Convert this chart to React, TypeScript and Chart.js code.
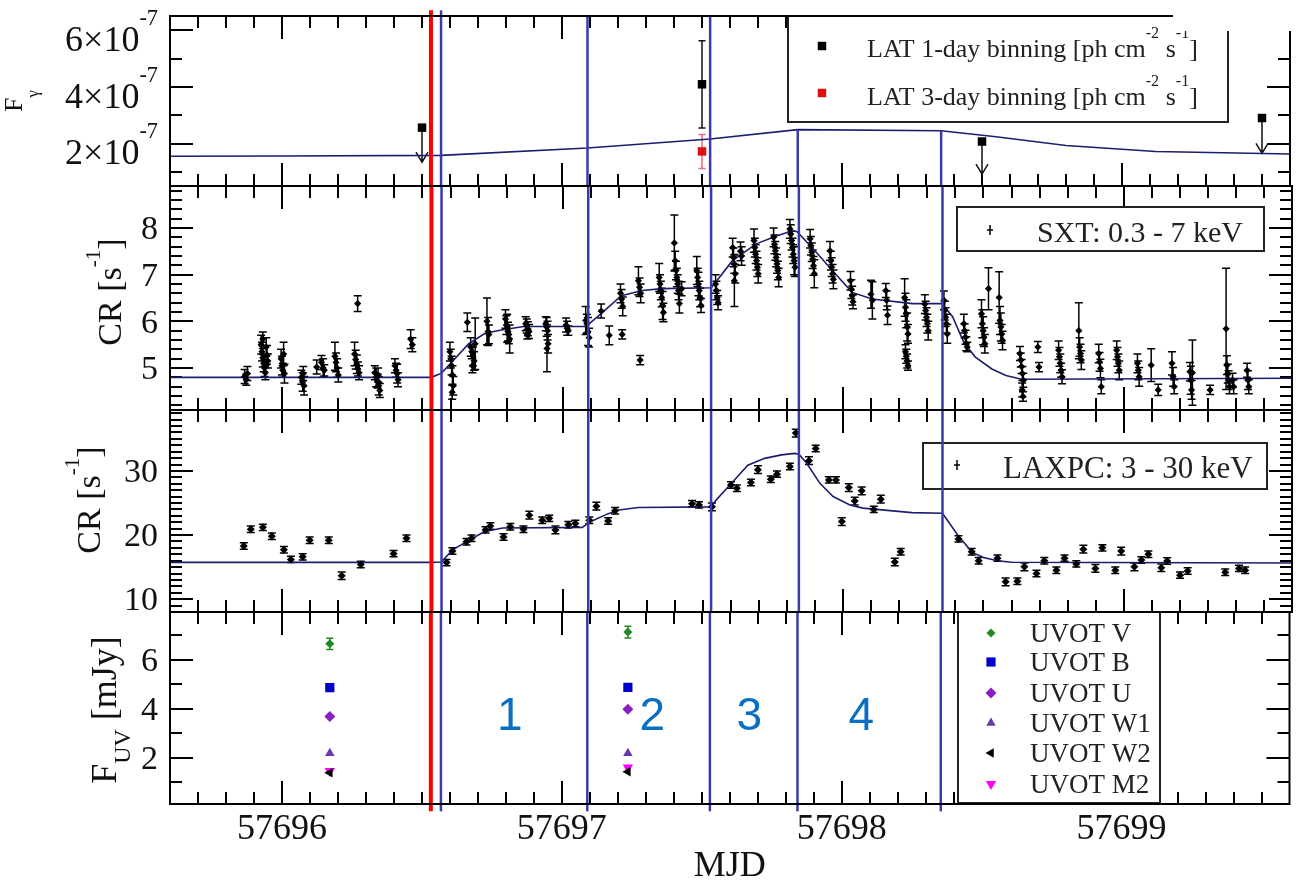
import React, { useEffect, useRef } from 'react';
import { Chart, registerables } from 'chart.js';

Chart.register(...registerables);

// ---------------------------------------------------------------------------
// Page geometry (one shared MJD axis, four stacked panels)
// ---------------------------------------------------------------------------
const W = 1296;
const H = 882;
const PLOT_LEFT = 170;
const PLOT_RIGHT = 1294;
const MJD_MIN = 57695.6;
const MJD_MAX = 57699.6;
const SERIF = '"Liberation Serif", "Times New Roman", Times, serif';
const SANS = '"Liberation Sans", Arial, sans-serif';

const xMajorTicks = [57696, 57697, 57698, 57699];
const xTickLabels = ['57696', '57697', '57698', '57699'];

// Flare start and the boundaries of the four flare phases
const flareStart = 57696.532;
const phaseBounds = [57696.568, 57697.091, 57697.529, 57697.842, 57698.354];
const phaseLabels = ['1', '2', '3', '4'];
const phaseLabelTime = [57696.814, 57697.323, 57697.67, 57698.07];
const phaseLabelLevel = 3.63;

// ---------------------------------------------------------------------------
// Fermi-LAT gamma-ray flux [ph cm^-2 s^-1]
// ---------------------------------------------------------------------------
const latDayTime = [57696.5, 57697.5, 57698.5, 57699.5];
const latDayFlux = [2.56e-7, 4.09e-7, 2.07e-7, 2.9e-7];
const latDayErr = [0, 1.54e-7, 0, 0];
const latDayLimitTo: (number | null)[] = [1.34e-7, null, 0.92e-7, 1.65e-7];
const lat3DayTime = [57697.5];
const lat3DayFlux = [1.72e-7];
const lat3DayErr = [0.6e-7];
const latModelTime = [57695.6, 57696.0, 57696.568, 57697.091, 57697.529, 57697.842, 57698.354, 57698.55, 57698.8, 57699.12, 57699.6];
const latModelFlux = [1.55e-7, 1.56e-7, 1.58e-7, 1.84e-7, 2.16e-7, 2.49e-7, 2.45e-7, 2.24e-7, 1.93e-7, 1.72e-7, 1.63e-7];

// ---------------------------------------------------------------------------
// AstroSat SXT count rate, 0.3 - 7 keV
// ---------------------------------------------------------------------------
const sxtTime = [
  57695.866, 57695.872, 57695.876,
  57695.925, 57695.928, 57695.931, 57695.934, 57695.937, 57695.940, 57695.943, 57695.946, 57695.949, 57695.931,
  57695.996, 57695.999, 57696.002, 57696.005, 57696.008,
  57696.068, 57696.073, 57696.078, 57696.075,
  57696.123,
  57696.140, 57696.146, 57696.150,
  57696.188, 57696.192, 57696.196, 57696.200,
  57696.269,
  57696.258, 57696.262, 57696.266, 57696.270, 57696.274,
  57696.330, 57696.335, 57696.340, 57696.344, 57696.348, 57696.342,
  57696.402, 57696.406, 57696.410, 57696.413,
  57696.458, 57696.464,
  57696.598, 57696.601, 57696.604, 57696.607, 57696.610, 57696.606,
  57696.660,
  57696.672, 57696.676, 57696.680, 57696.684, 57696.678,
  57696.688,
  57696.730, 57696.734, 57696.737,
  57696.796, 57696.799, 57696.802, 57696.805, 57696.808, 57696.811,
  57696.868, 57696.872, 57696.876, 57696.880, 57696.874,
  57696.940, 57696.943, 57696.946, 57696.944, 57696.948,
  57697.012, 57697.016, 57697.020,
  57697.082, 57697.086, 57697.090, 57697.094,
  57697.137,
  57697.166,
  57697.206, 57697.210, 57697.214, 57697.212,
  57697.270, 57697.274, 57697.278, 57697.276,
  57697.344, 57697.347, 57697.350, 57697.353, 57697.356, 57697.359,
  57697.398, 57697.401, 57697.404, 57697.407, 57697.410, 57697.413, 57697.416, 57697.424,
  57697.478, 57697.481, 57697.484, 57697.487, 57697.490, 57697.493,
  57697.545, 57697.548, 57697.551, 57697.554,
  57697.606, 57697.609, 57697.612, 57697.615, 57697.612,
  57697.634, 57697.638,
  57697.682, 57697.685, 57697.688, 57697.691, 57697.694, 57697.697,
  57697.752, 57697.755, 57697.758, 57697.761, 57697.764, 57697.767, 57697.770,
  57697.810, 57697.813, 57697.816, 57697.819, 57697.822, 57697.825, 57697.828,
  57697.882, 57697.885, 57697.888, 57697.891, 57697.894, 57697.897,
  57697.953, 57697.956, 57697.959, 57697.962, 57697.965,
  57698.026, 57698.029, 57698.032, 57698.035,
  57698.099, 57698.104,
  57698.152, 57698.155, 57698.158,
  57698.219, 57698.222, 57698.225, 57698.228, 57698.231, 57698.222, 57698.225, 57698.228, 57698.231,
  57698.291, 57698.294, 57698.297, 57698.300, 57698.303,
  57698.359, 57698.362, 57698.365, 57698.368, 57698.371,
  57698.430, 57698.433, 57698.436, 57698.439, 57698.442,
  57698.493, 57698.496, 57698.499, 57698.502, 57698.505, 57698.518,
  57698.556, 57698.559, 57698.562, 57698.565, 57698.568,
  57698.630, 57698.633, 57698.636, 57698.639, 57698.642, 57698.638, 57698.641,
  57698.694, 57698.698,
  57698.768, 57698.771, 57698.774, 57698.777, 57698.780,
  57698.840, 57698.843, 57698.846, 57698.849,
  57698.911, 57698.914, 57698.917, 57698.920,
  57698.975, 57698.978, 57698.981, 57698.984,
  57699.049, 57699.052, 57699.055,
  57699.098,
  57699.123,
  57699.172, 57699.176, 57699.180,
  57699.236, 57699.239, 57699.242, 57699.245,
  57699.308,
  57699.365, 57699.368, 57699.371, 57699.374, 57699.377,
  57699.388, 57699.392,
  57699.440, 57699.443, 57699.446,
];
const sxtRate = [
  4.82, 4.75, 4.88,
  5.50, 5.35, 5.22, 5.10, 5.00, 4.90, 5.45, 5.28, 5.15, 5.62,
  5.20, 5.05, 4.95, 5.30, 4.88,
  4.80, 4.70, 4.62, 4.88,
  5.02,
  5.12, 5.00, 4.95,
  5.25, 5.12, 5.00, 4.85,
  6.38,
  5.30, 5.18, 5.08, 4.98, 4.90,
  4.90, 4.80, 4.72, 4.62, 4.52, 4.85,
  5.05, 4.95, 4.88, 4.75,
  5.62, 5.50,
  5.35, 5.20, 5.05, 4.85, 4.62, 4.48,
  5.98,
  5.45, 5.35, 5.25, 5.15, 5.05,
  5.52,
  6.00, 5.78, 5.72,
  6.05, 5.92, 5.85, 5.78, 5.72, 5.62,
  5.95, 5.90, 5.84, 5.78, 5.72,
  5.95, 5.88, 5.80, 5.42, 5.52,
  5.92, 5.85, 5.80,
  6.02, 5.95, 5.78, 5.65,
  6.22,
  5.70,
  6.60, 6.48, 6.32, 5.72,
  6.87, 6.73, 6.60, 5.17,
  6.94, 6.80, 6.66, 6.51, 6.34, 6.19,
  7.68, 7.30, 7.09, 6.94, 6.80, 6.66, 6.38, 6.70,
  7.09, 6.94, 6.80, 6.66, 6.51, 6.34,
  6.80, 6.66, 6.51, 6.40,
  7.58, 7.37, 7.23, 7.02, 6.87,
  7.50, 7.40,
  7.73, 7.58, 7.44, 7.30, 7.16, 7.02,
  7.80, 7.65, 7.51, 7.37, 7.23, 7.09, 6.94,
  7.98, 7.87, 7.73, 7.58, 7.44, 7.30, 7.16,
  7.77, 7.62, 7.48, 7.33, 7.19, 7.02,
  7.51, 7.30, 7.16, 7.02, 6.90,
  6.87, 6.69, 6.55, 6.42,
  6.58, 6.45,
  6.66, 6.45, 6.13,
  6.51, 6.30, 6.16, 5.88, 5.73, 5.35, 5.25, 5.15, 5.05,
  6.37, 6.23, 6.09, 5.95, 5.80,
  6.45, 6.23, 6.09, 5.95, 5.73,
  5.95, 5.80, 5.66, 5.52, 5.45,
  6.16, 5.95, 5.80, 5.66, 5.52, 6.70,
  6.51, 6.02, 5.88, 5.73, 5.59,
  5.31, 5.17, 5.03, 4.88, 4.74, 4.53, 4.39,
  5.45, 5.02,
  5.38, 5.24, 5.10, 4.95, 4.81,
  5.80, 5.45, 5.31, 5.17,
  5.31, 5.13, 4.99, 4.60,
  5.38, 5.24, 5.10, 4.95,
  5.10, 4.95, 4.81,
  5.06,
  4.53,
  5.10, 4.81, 4.60,
  4.92, 4.74, 4.53, 4.90,
  4.53,
  5.84, 5.06, 4.88, 4.74, 4.60,
  4.74, 4.60,
  4.95, 4.74, 4.60,
];
const sxtErr = [
  0.15, 0.12, 0.15,
  0.20, 0.20, 0.20, 0.18, 0.18, 0.15, 0.20, 0.20, 0.15, 0.15,
  0.20, 0.20, 0.15, 0.25, 0.20,
  0.15, 0.20, 0.20, 0.15,
  0.15,
  0.15, 0.20, 0.12,
  0.30, 0.20, 0.20, 0.15,
  0.17,
  0.25, 0.20, 0.20, 0.15, 0.15,
  0.15, 0.20, 0.15, 0.20, 0.15, 0.15,
  0.15, 0.15, 0.20, 0.15,
  0.20, 0.15,
  0.20, 0.20, 0.20, 0.20, 0.20, 0.15,
  0.20,
  0.20, 0.15, 0.20, 0.20, 0.15,
  0.55,
  0.50, 0.30, 0.20,
  0.20, 0.20, 0.30, 0.20, 0.20, 0.30,
  0.15, 0.15, 0.15, 0.15, 0.10,
  0.15, 0.20, 0.20, 0.50, 0.20,
  0.15, 0.15, 0.10,
  0.30, 0.20, 0.30, 0.20,
  0.15,
  0.20,
  0.20, 0.20, 0.20, 0.10,
  0.30, 0.20, 0.20, 0.10,
  0.30, 0.20, 0.20, 0.20, 0.30, 0.20,
  0.60, 0.20, 0.20, 0.20, 0.20, 0.20, 0.20, 0.15,
  0.30, 0.20, 0.25, 0.20, 0.20, 0.15,
  0.20, 0.20, 0.15, 0.15,
  0.20, 0.20, 0.20, 0.20, 0.55,
  0.20, 0.20,
  0.25, 0.20, 0.20, 0.20, 0.20, 0.20,
  0.20, 0.20, 0.20, 0.20, 0.20, 0.20, 0.20,
  0.20, 0.20, 0.20, 0.20, 0.20, 0.30, 0.20,
  0.20, 0.20, 0.20, 0.20, 0.20, 0.30,
  0.20, 0.20, 0.20, 0.20, 0.20,
  0.20, 0.20, 0.20, 0.15,
  0.30, 0.40,
  0.15, 0.20, 0.20,
  0.40, 0.30, 0.30, 0.30, 0.20, 0.15, 0.15, 0.15, 0.10,
  0.20, 0.20, 0.20, 0.20, 0.20,
  0.20, 0.20, 0.20, 0.20, 0.20,
  0.20, 0.15, 0.15, 0.15, 0.10,
  0.30, 0.30, 0.30, 0.20, 0.20, 0.45,
  0.55, 0.30, 0.30, 0.20, 0.20,
  0.15, 0.15, 0.15, 0.15, 0.15, 0.15, 0.10,
  0.12, 0.10,
  0.20, 0.20, 0.20, 0.15, 0.15,
  0.60, 0.20, 0.20, 0.20,
  0.20, 0.20, 0.20, 0.15,
  0.20, 0.20, 0.20, 0.20,
  0.20, 0.20, 0.20,
  0.35,
  0.12,
  0.25, 0.20, 0.15,
  0.20, 0.30, 0.20, 0.70,
  0.10,
  1.30, 0.20, 0.20, 0.20, 0.15,
  0.15, 0.15,
  0.15, 0.20, 0.15,
];
const sxtModelTime = [57695.6, 57696.532, 57696.568, 57696.605, 57696.665, 57696.722, 57696.776, 57696.861, 57697.078, 57697.095, 57697.138, 57697.209, 57697.284, 57697.355, 57697.53, 57697.605, 57697.69, 57697.762, 57697.819, 57697.836, 57697.904, 57697.961, 57698.032, 57698.103, 57698.246, 57698.352, 57698.39, 57698.43, 57698.47, 57698.53, 57698.58, 57698.636, 57699.6];
const sxtModelRate = [4.8, 4.8, 4.89, 5.13, 5.52, 5.74, 5.81, 5.89, 5.89, 5.95, 6.17, 6.55, 6.66, 6.7, 6.72, 7.3, 7.66, 7.83, 7.94, 7.92, 7.48, 7.09, 6.62, 6.48, 6.38, 6.38, 6.1, 5.55, 5.24, 4.98, 4.84, 4.76, 4.78];

// ---------------------------------------------------------------------------
// AstroSat LAXPC count rate, 3 - 30 keV
// ---------------------------------------------------------------------------
const laxTime = [
  57695.863, 57695.888, 57695.931, 57695.963, 57696.006, 57696.031, 57696.073, 57696.098, 57696.166, 57696.212,
  57696.280, 57696.397, 57696.443,
  57696.586, 57696.607, 57696.657, 57696.675, 57696.725, 57696.742, 57696.789, 57696.813, 57696.860, 57696.881,
  57696.927, 57696.952, 57696.974, 57697.020, 57697.045, 57697.095, 57697.120, 57697.162, 57697.187,
  57697.461, 57697.486, 57697.532, 57697.600, 57697.621, 57697.671, 57697.696, 57697.742, 57697.764, 57697.810,
  57697.831, 57697.878, 57697.902, 57697.949, 57697.974, 57697.995, 57698.020, 57698.041, 57698.066, 57698.109,
  57698.134, 57698.184, 57698.205,
  57698.411, 57698.458, 57698.483, 57698.550, 57698.579, 57698.621, 57698.646, 57698.689, 57698.717, 57698.760,
  57698.789, 57698.831, 57698.856, 57698.899, 57698.924, 57698.970, 57698.991, 57699.038, 57699.063, 57699.088,
  57699.134, 57699.155, 57699.201, 57699.228, 57699.362, 57699.411, 57699.433,
];
const laxRate = [
  18.3, 20.9, 21.2, 19.8, 17.7, 16.2, 16.6, 19.2, 19.2, 13.65,
  15.4, 17.1, 19.5,
  15.7, 17.5, 18.95, 19.5, 20.8, 21.4, 19.7, 21.3, 20.9, 23.1,
  22.3, 22.6, 20.8, 21.6, 21.8, 22.3, 24.5, 22.2, 23.8,
  24.9, 24.7, 24.4, 27.8, 27.3, 28.2, 30.2, 28.7, 29.5, 30.7,
  35.9, 31.6, 33.5, 28.6, 28.6, 22.1, 27.4, 25.3, 26.9, 24.0,
  25.6, 15.8, 17.4,
  19.4, 17.4, 16.0, 16.4, 12.7, 12.8, 15.05, 14.0, 16.0, 14.5,
  16.4, 15.5, 17.8, 14.8, 18.0, 14.5, 17.5, 15.05, 16.1, 17.0,
  14.9, 15.95, 13.75, 14.4, 14.2, 14.8, 14.5,
];
const laxErr = [
  0.5, 0.5, 0.5, 0.5, 0.5, 0.5, 0.5, 0.5, 0.5, 0.6,
  0.5, 0.5, 0.5,
  0.5, 0.5, 0.5, 0.5, 0.5, 0.5, 0.5, 0.5, 0.5, 0.6,
  0.5, 0.5, 0.6, 0.5, 0.5, 0.5, 0.6, 0.5, 0.5,
  0.5, 0.5, 0.6, 0.5, 0.5, 0.5, 0.6, 0.5, 0.5, 0.5,
  0.6, 0.6, 0.5, 0.5, 0.5, 0.6, 0.6, 0.6, 0.6, 0.5,
  0.6, 0.6, 0.5,
  0.5, 0.5, 0.5, 0.5, 0.6, 0.5, 0.6, 0.5, 0.5, 0.5,
  0.5, 0.5, 0.6, 0.6, 0.5, 0.5, 0.6, 0.6, 0.5, 0.5,
  0.6, 0.5, 0.5, 0.5, 0.5, 0.5, 0.5,
];
const laxModelTime = [57695.6, 57696.532, 57696.568, 57696.607, 57696.667, 57696.72, 57696.786, 57697.07, 57697.095, 57697.16, 57697.2, 57697.27, 57697.529, 57697.55, 57697.6, 57697.66, 57697.72, 57697.78, 57697.826, 57697.842, 57697.87, 57697.917, 57697.964, 57698.024, 57698.07, 57698.245, 57698.354, 57698.41, 57698.46, 57698.5, 57698.55, 57698.6, 57699.6];
const laxModelRate = [15.74, 15.74, 15.8, 17.7, 19.2, 20.5, 21.1, 21.2, 22.0, 23.3, 23.9, 24.3, 24.4, 25.6, 28.0, 30.9, 31.96, 32.5, 32.74, 32.6, 31.2, 28.06, 26.0, 24.7, 24.2, 23.5, 23.4, 19.9, 17.3, 16.5, 16.0, 15.75, 15.65];

// ---------------------------------------------------------------------------
// Swift-UVOT flux densities [mJy]
// ---------------------------------------------------------------------------
const uvotTime = [57696.171, 57697.236];
const uvotV = [6.65, 7.13];
const uvotVErr = [0.23, 0.24];
const uvotB = [4.86, 4.87];
const uvotU = [3.68, 3.97];
const uvotW1 = [2.17, 2.18];
const uvotW2 = [1.38, 1.42];
const uvotM2 = [1.45, 1.59];

const uvotBands = [
  { label: 'UVOT V', values: uvotV, color: '#1f8a1f', style: 'rectRot', radius: 4.5, rotation: 0 },
  { label: 'UVOT B', values: uvotB, color: '#0000c8', style: 'rect', radius: 6.5, rotation: 0 },
  { label: 'UVOT U', values: uvotU, color: '#8a1fc4', style: 'rectRot', radius: 5.5, rotation: 0 },
  { label: 'UVOT W1', values: uvotW1, color: '#6a3aa6', style: 'triangle', radius: 5.5, rotation: 0 },
  { label: 'UVOT W2', values: uvotW2, color: '#000000', style: 'triangle', radius: 5.5, rotation: 270 },
  { label: 'UVOT M2', values: uvotM2, color: '#ff00ff', style: 'triangle', radius: 6, rotation: 180 },
];

// ---------------------------------------------------------------------------
// Styles
// ---------------------------------------------------------------------------
const RED = '#ff0000';
const BLUE = '#3a3aae';
const MODEL = '#1d1d6e';
const PHASE_TEXT = '#0a6fc2';

type Seg = { t: string; sup?: boolean; sub?: boolean };

function interp(ts: number[], vs: number[], t: number): number {
  for (let i = 1; i < ts.length; i++) {
    if (t <= ts[i]) {
      const f = (t - ts[i - 1]) / (ts[i] - ts[i - 1]);
      return vs[i - 1] + f * (vs[i] - vs[i - 1]);
    }
  }
  return vs[vs.length - 1];
}

function drawRich(
  ctx: CanvasRenderingContext2D,
  segs: Seg[],
  x: number,
  y: number,
  size: number,
  align: 'left' | 'center' | 'right',
  rise = 0.7,
  drop = 0.45,
  scriptScale = 0.62,
) {
  const fontFor = (s: Seg) => `${s.sup || s.sub ? size * scriptScale : size}px ${SERIF}`;
  const widths = segs.map((s) => {
    ctx.font = fontFor(s);
    return ctx.measureText(s.t).width;
  });
  const total = widths.reduce((a, b) => a + b, 0);
  let cx = align === 'center' ? x - total / 2 : align === 'right' ? x - total : x;
  ctx.textAlign = 'left';
  ctx.textBaseline = 'alphabetic';
  segs.forEach((s, i) => {
    ctx.font = fontFor(s);
    const dy = s.sup ? -size * rise : s.sub ? size * drop : 0;
    ctx.fillText(s.t, cx, y + dy);
    cx += widths[i];
  });
}

function drawMarker(ctx: CanvasRenderingContext2D, style: string, x: number, y: number, r: number, color: string, rotation = 0) {
  ctx.save();
  ctx.fillStyle = color;
  ctx.translate(x, y);
  ctx.rotate((rotation * Math.PI) / 180);
  ctx.beginPath();
  if (style === 'rect') {
    const h = r * Math.SQRT1_2;
    ctx.rect(-h, -h, 2 * h, 2 * h);
  } else if (style === 'rectRot') {
    ctx.moveTo(0, -r);
    ctx.lineTo(r, 0);
    ctx.lineTo(0, r);
    ctx.lineTo(-r, 0);
    ctx.closePath();
  } else {
    for (let k = 0; k < 3; k++) {
      const a = (k * 2 * Math.PI) / 3;
      const px = Math.sin(a) * r;
      const py = -Math.cos(a) * r;
      if (k === 0) ctx.moveTo(px, py);
      else ctx.lineTo(px, py);
    }
    ctx.closePath();
  }
  ctx.fill();
  ctx.restore();
}

type ErrSet = { time: number[]; value: number[]; err: number[]; color: string; cap: number; width: number };

function drawErrorBars(chart: Chart, sets: ErrSet[]) {
  const { ctx, chartArea: a } = chart;
  const xs = chart.scales.x;
  const ys = chart.scales.y;
  ctx.save();
  ctx.beginPath();
  ctx.rect(a.left, a.top, a.right - a.left, a.bottom - a.top);
  ctx.clip();
  for (const s of sets) {
    ctx.strokeStyle = s.color;
    ctx.lineWidth = s.width;
    ctx.beginPath();
    s.time.forEach((t, i) => {
      if (!s.err[i]) return;
      const px = xs.getPixelForValue(t);
      const y0 = ys.getPixelForValue(s.value[i] - s.err[i]);
      const y1 = ys.getPixelForValue(s.value[i] + s.err[i]);
      ctx.moveTo(px, y0);
      ctx.lineTo(px, y1);
      ctx.moveTo(px - s.cap / 2, y0);
      ctx.lineTo(px + s.cap / 2, y0);
      ctx.moveTo(px - s.cap / 2, y1);
      ctx.lineTo(px + s.cap / 2, y1);
    });
    ctx.stroke();
  }
  ctx.restore();
}

// Inward tick marks on all four sides of a panel
function drawTicks(chart: Chart, yMajor: number[], yMinor: number[]) {
  const { ctx, chartArea: a } = chart;
  const xs = chart.scales.x;
  const ys = chart.scales.y;
  const MAJ = 23;
  const MIN = 12;
  ctx.save();
  ctx.strokeStyle = '#000';
  ctx.lineWidth = 2;
  ctx.beginPath();
  for (let i = 1; i < 40; i++) {
    const t = MJD_MIN + i * 0.1;
    const isMajor = xMajorTicks.some((m) => Math.abs(m - t) < 1e-6);
    const len = isMajor ? MAJ : MIN;
    const px = Math.round(xs.getPixelForValue(t));
    ctx.moveTo(px, a.top);
    ctx.lineTo(px, a.top + len);
    ctx.moveTo(px, a.bottom);
    ctx.lineTo(px, a.bottom - len);
  }
  const yTick = (v: number, len: number) => {
    const py = Math.round(ys.getPixelForValue(v));
    ctx.moveTo(a.left, py);
    ctx.lineTo(a.left + len, py);
    ctx.moveTo(a.right, py);
    ctx.lineTo(a.right - len, py);
  };
  yMajor.forEach((v) => yTick(v, MAJ));
  yMinor.forEach((v) => yTick(v, MIN));
  ctx.stroke();
  ctx.restore();
}

function drawBorder(chart: Chart) {
  const { ctx, chartArea: a } = chart;
  ctx.save();
  ctx.strokeStyle = '#000';
  ctx.lineWidth = 2;
  ctx.strokeRect(a.left, a.top, a.right - a.left, a.bottom - a.top);
  ctx.restore();
}

function drawTitle(ctx: CanvasRenderingContext2D, segs: Seg[], baseX: number, centerY: number, size: number, drop = 0.45, scriptScale = 0.62, rise = 0.62) {
  ctx.save();
  ctx.fillStyle = '#111';
  ctx.translate(baseX, centerY);
  ctx.rotate(-Math.PI / 2);
  drawRich(ctx, segs, 0, 0, size, 'center', rise, drop, scriptScale);
  ctx.restore();
}

function drawLegendBox(ctx: CanvasRenderingContext2D, x0: number, y0: number, x1: number, y1: number) {
  ctx.save();
  ctx.fillStyle = '#fff';
  ctx.fillRect(x0, y0, x1 - x0, y1 - y0);
  ctx.strokeStyle = '#222';
  ctx.lineWidth = 2;
  ctx.strokeRect(x0, y0, x1 - x0, y1 - y0);
  ctx.restore();
}

function drawTinyErrMark(ctx: CanvasRenderingContext2D, x: number, y: number) {
  ctx.save();
  ctx.strokeStyle = '#000';
  ctx.lineWidth = 1.5;
  ctx.beginPath();
  ctx.moveTo(x, y - 5);
  ctx.lineTo(x, y + 5);
  ctx.moveTo(x - 3, y);
  ctx.lineTo(x + 3, y);
  ctx.stroke();
  ctx.restore();
}

function yTickLabels(chart: Chart, values: number[], render: (v: number) => Seg[], size: number, dyBase = 0, rise = 0.7) {
  const { ctx } = chart;
  const ys = chart.scales.y;
  ctx.save();
  ctx.fillStyle = '#111';
  values.forEach((v) => {
    const py = ys.getPixelForValue(v);
    drawRich(ctx, render(v), 158, py + size * 0.33 + dyBase, size, 'right', rise);
  });
  ctx.restore();
}

function vline(t: number, y0: number, y1: number, color: string, width: number) {
  return {
    data: [{ x: t, y: y0 }, { x: t, y: y1 }],
    showLine: true,
    borderColor: color,
    borderWidth: width,
    pointRadius: 0,
    clip: false as const,
  };
}

function pts(ts: number[], vs: number[]) {
  return ts.map((t, i) => ({ x: t, y: vs[i] }));
}

function baseOptions(top: number, bottom: number, ymin: number, ymax: number): any {
  return {
    responsive: false,
    animation: false,
    devicePixelRatio: 1,
    events: [],
    layout: { padding: { left: PLOT_LEFT, right: W - PLOT_RIGHT, top, bottom: H - bottom } },
    plugins: { legend: { display: false }, tooltip: { enabled: false } },
    scales: {
      x: { type: 'linear', min: MJD_MIN, max: MJD_MAX, display: false },
      y: { type: 'linear', min: ymin, max: ymax, display: false },
    },
  };
}

function range(from: number, to: number, step: number): number[] {
  const out: number[] = [];
  for (let v = from; v <= to + 1e-9; v += step) out.push(+v.toFixed(6));
  return out;
}

// ---------------------------------------------------------------------------
// Panel 1: Fermi-LAT
// ---------------------------------------------------------------------------
function buildLat(canvas: HTMLCanvasElement) {
  const ymin = 0.5e-7;
  const ymax = 6.5e-7;
  const limitIdx = latDayLimitTo.map((v, i) => (v !== null ? i : -1)).filter((i) => i >= 0);
  const datasets: any[] = [
    vline(flareStart, ymin, ymax + 0.2e-7, RED, 4),
    vline(phaseBounds[0], ymin, ymax + 0.2e-7, BLUE, 2.5),
    vline(phaseBounds[1], ymin, ymax, BLUE, 2.5),
    vline(phaseBounds[2], ymin, ymax, BLUE, 2.5),
    vline(phaseBounds[3], ymin, interp(latModelTime, latModelFlux, phaseBounds[3]), BLUE, 2.5),
    vline(phaseBounds[4], ymin, interp(latModelTime, latModelFlux, phaseBounds[4]), BLUE, 2.5),
    { data: pts(latDayTime, latDayFlux), pointStyle: 'rect', pointRadius: 6, backgroundColor: '#000', borderWidth: 0 },
    { data: pts(lat3DayTime, lat3DayFlux), pointStyle: 'rect', pointRadius: 6, backgroundColor: '#e01010', borderWidth: 0 },
    { data: pts(latModelTime, latModelFlux), showLine: true, borderColor: MODEL, borderWidth: 1.6, pointRadius: 0 },
  ];
  const plugin = {
    id: 'latPanel',
    beforeDatasetsDraw(chart: Chart) {
      const { ctx } = chart;
      drawTicks(chart, [2e-7, 4e-7, 6e-7], [1e-7, 3e-7, 5e-7]);
      drawLegendBox(ctx, 788, 16, 1228, 122);
      drawMarker(ctx, 'rect', 822, 46, 6, '#000');
      drawMarker(ctx, 'rect', 822, 93, 6, '#e01010');
      ctx.save();
      ctx.fillStyle = '#222';
      const unit: Seg[] = [{ t: ' [ph cm' }, { t: '-2', sup: true }, { t: ' s' }, { t: '-1', sup: true }, { t: ']' }];
      drawRich(ctx, [{ t: 'LAT 1-day binning' }, ...unit], 867, 57, 26, 'left', 0.72);
      drawRich(ctx, [{ t: 'LAT 3-day binning' }, ...unit], 867, 105, 26, 'left', 0.72);
      ctx.restore();
      drawErrorBars(chart, [
        { time: latDayTime, value: latDayFlux, err: latDayErr, color: '#111', cap: 7, width: 1.5 },
        { time: lat3DayTime, value: lat3DayFlux, err: lat3DayErr, color: 'rgba(215,60,80,0.75)', cap: 7, width: 1.5 },
      ]);
      // upper-limit arrows
      const xs = chart.scales.x;
      const ys = chart.scales.y;
      ctx.save();
      ctx.strokeStyle = '#111';
      ctx.lineWidth = 1.5;
      ctx.beginPath();
      limitIdx.forEach((i) => {
        const px = xs.getPixelForValue(latDayTime[i]);
        const y0 = ys.getPixelForValue(latDayFlux[i]);
        const y1 = ys.getPixelForValue(latDayLimitTo[i] as number);
        ctx.moveTo(px, y0);
        ctx.lineTo(px, y1);
        ctx.moveTo(px - 6, y1 - 10);
        ctx.lineTo(px, y1);
        ctx.lineTo(px + 6, y1 - 10);
      });
      ctx.stroke();
      ctx.restore();
    },
    afterDraw(chart: Chart) {
      const { ctx } = chart;
      drawBorder(chart);
      yTickLabels(chart, [2e-7, 4e-7, 6e-7], (v) => [{ t: `${Math.round(v / 1e-7)}×10` }, { t: '-7', sup: true }], 36, 9, 0.72);
      drawTitle(ctx, [{ t: 'F' }, { t: 'γ', sub: true }], 22, 101, 26, 0.62, 0.65);
      // white corner of the page
      ctx.save();
      ctx.fillStyle = '#fff';
      ctx.fillRect(1173, 0, W - 1173, 31);
      ctx.restore();
    },
  };
  return new Chart(canvas, { type: 'scatter', data: { datasets }, options: baseOptions(16, 186, ymin, ymax), plugins: [plugin] });
}

// ---------------------------------------------------------------------------
// Panel 2: SXT
// ---------------------------------------------------------------------------
function buildSxt(canvas: HTMLCanvasElement) {
  const ymin = 4.1;
  const ymax = 8.9;
  const datasets: any[] = [
    vline(flareStart, ymin, ymax, RED, 4),
    ...phaseBounds.map((t) => vline(t, ymin, ymax, BLUE, 2.5)),
    { data: pts(sxtTime, sxtRate), pointStyle: 'rectRot', pointRadius: 3.6, backgroundColor: '#000', borderWidth: 0 },
    { data: pts(sxtModelTime, sxtModelRate), showLine: true, borderColor: MODEL, borderWidth: 1.6, pointRadius: 0 },
  ];
  const plugin = {
    id: 'sxtPanel',
    beforeDatasetsDraw(chart: Chart) {
      const { ctx } = chart;
      drawTicks(chart, [5, 6, 7, 8], range(4.2, 8.8, 0.2));
      drawLegendBox(ctx, 957, 207, 1264, 251);
      drawTinyErrMark(ctx, 990, 230);
      ctx.save();
      ctx.fillStyle = '#222';
      drawRich(ctx, [{ t: 'SXT: 0.3 - 7 keV' }], 1037, 242, 30, 'left');
      ctx.restore();
      drawErrorBars(chart, [{ time: sxtTime, value: sxtRate, err: sxtErr, color: '#000', cap: 8, width: 1.5 }]);
    },
    afterDraw(chart: Chart) {
      drawBorder(chart);
      yTickLabels(chart, [5, 6, 7, 8], (v) => [{ t: String(v) }], 34);
      drawTitle(chart.ctx, [{ t: 'CR [s' }, { t: '-1', sup: true }, { t: ']' }], 121, 292, 34);
    },
  };
  return new Chart(canvas, { type: 'scatter', data: { datasets }, options: baseOptions(186, 410, ymin, ymax), plugins: [plugin] });
}

// ---------------------------------------------------------------------------
// Panel 3: LAXPC
// ---------------------------------------------------------------------------
function buildLaxpc(canvas: HTMLCanvasElement) {
  const ymin = 8;
  const ymax = 39.5;
  const datasets: any[] = [
    vline(flareStart, ymin, ymax, RED, 4),
    ...phaseBounds.map((t) => vline(t, ymin, ymax, BLUE, 2.5)),
    { data: pts(laxTime, laxRate), pointStyle: 'rectRot', pointRadius: 4, backgroundColor: '#000', borderWidth: 0 },
    { data: pts(laxModelTime, laxModelRate), showLine: true, borderColor: MODEL, borderWidth: 1.6, pointRadius: 0 },
  ];
  const plugin = {
    id: 'laxpcPanel',
    beforeDatasetsDraw(chart: Chart) {
      const { ctx } = chart;
      drawTicks(chart, [10, 20, 30], range(9, 39, 1).filter((v) => v % 10 !== 0));
      drawLegendBox(ctx, 923, 443, 1267, 489);
      drawTinyErrMark(ctx, 957, 465);
      ctx.save();
      ctx.fillStyle = '#222';
      drawRich(ctx, [{ t: 'LAXPC: 3 - 30 keV' }], 1003, 478, 31, 'left');
      ctx.restore();
      drawErrorBars(chart, [{ time: laxTime, value: laxRate, err: laxErr, color: '#000', cap: 8, width: 1.5 }]);
    },
    afterDraw(chart: Chart) {
      drawBorder(chart);
      yTickLabels(chart, [10, 20, 30], (v) => [{ t: String(v) }], 34);
      drawTitle(chart.ctx, [{ t: 'CR [s' }, { t: '-1', sup: true }, { t: ']' }], 100, 500, 34);
    },
  };
  return new Chart(canvas, { type: 'scatter', data: { datasets }, options: baseOptions(410, 612, ymin, ymax), plugins: [plugin] });
}

// ---------------------------------------------------------------------------
// Panel 4: UVOT
// ---------------------------------------------------------------------------
function buildUvot(canvas: HTMLCanvasElement) {
  const ymin = 0.1;
  const ymax = 7.95;
  const datasets: any[] = [
    vline(flareStart, ymin - 0.3, ymax, RED, 4),
    ...phaseBounds.map((t) => vline(t, ymin - 0.3, ymax, BLUE, 2.5)),
    ...uvotBands.map((b) => ({
      data: pts(uvotTime, b.values),
      pointStyle: b.style,
      pointRadius: b.radius,
      pointRotation: b.rotation,
      backgroundColor: b.color,
      borderWidth: 0,
    })),
  ];
  const plugin = {
    id: 'uvotPanel',
    beforeDatasetsDraw(chart: Chart) {
      const { ctx } = chart;
      drawTicks(chart, [2, 4, 6], [1, 3, 5, 7]);
      drawLegendBox(ctx, 958, 612, 1160, 803);
      const rows = [633, 662, 693, 723, 753, 784];
      ctx.save();
      uvotBands.forEach((b, i) => {
        drawMarker(ctx, b.style, 991, rows[i], b.radius, b.color, b.rotation);
        ctx.fillStyle = '#222';
        drawRich(ctx, [{ t: b.label }], 1030, rows[i] + 9, 27, 'left');
      });
      ctx.restore();
      drawErrorBars(chart, [{ time: uvotTime, value: uvotV, err: uvotVErr, color: '#1f8a1f', cap: 7, width: 1.5 }]);
    },
    afterDraw(chart: Chart) {
      const { ctx } = chart;
      const xs = chart.scales.x;
      const ys = chart.scales.y;
      drawBorder(chart);
      yTickLabels(chart, [2, 4, 6], (v) => [{ t: String(v) }], 34);
      drawTitle(ctx, [{ t: 'F' }, { t: 'UV', sub: true }, { t: ' [mJy]' }], 116, 710, 36, 0.4, 0.66);
      // phase numbers
      ctx.save();
      ctx.fillStyle = PHASE_TEXT;
      ctx.font = `46px ${SANS}`;
      ctx.textAlign = 'center';
      ctx.textBaseline = 'middle';
      phaseLabels.forEach((s, i) => {
        ctx.fillText(s, xs.getPixelForValue(phaseLabelTime[i]), ys.getPixelForValue(phaseLabelLevel));
      });
      // MJD axis labels
      ctx.fillStyle = '#111';
      ctx.font = `36px ${SERIF}`;
      xMajorTicks.forEach((t, i) => {
        ctx.fillText(xTickLabels[i], xs.getPixelForValue(t), 830);
      });
      ctx.fillText('MJD', (chart.chartArea.left + chart.chartArea.right) / 2, 867);
      ctx.restore();
    },
  };
  return new Chart(canvas, { type: 'scatter', data: { datasets }, options: baseOptions(612, 804, ymin, ymax), plugins: [plugin] });
}

export default function App() {
  const r1 = useRef<HTMLCanvasElement>(null);
  const r2 = useRef<HTMLCanvasElement>(null);
  const r3 = useRef<HTMLCanvasElement>(null);
  const r4 = useRef<HTMLCanvasElement>(null);

  useEffect(() => {
    const charts = [
      buildLat(r1.current!),
      buildSxt(r2.current!),
      buildLaxpc(r3.current!),
      buildUvot(r4.current!),
    ];
    return () => charts.forEach((c) => c.destroy());
  }, []);

  const style: React.CSSProperties = { position: 'absolute', left: 0, top: 0, width: W, height: H };
  return (
    <div style={{ position: 'fixed', left: 0, top: 0, width: W, height: H, background: '#fff' }}>
      <canvas ref={r1} width={W} height={H} style={style} />
      <canvas ref={r2} width={W} height={H} style={style} />
      <canvas ref={r3} width={W} height={H} style={style} />
      <canvas ref={r4} width={W} height={H} style={style} />
    </div>
  );
}
